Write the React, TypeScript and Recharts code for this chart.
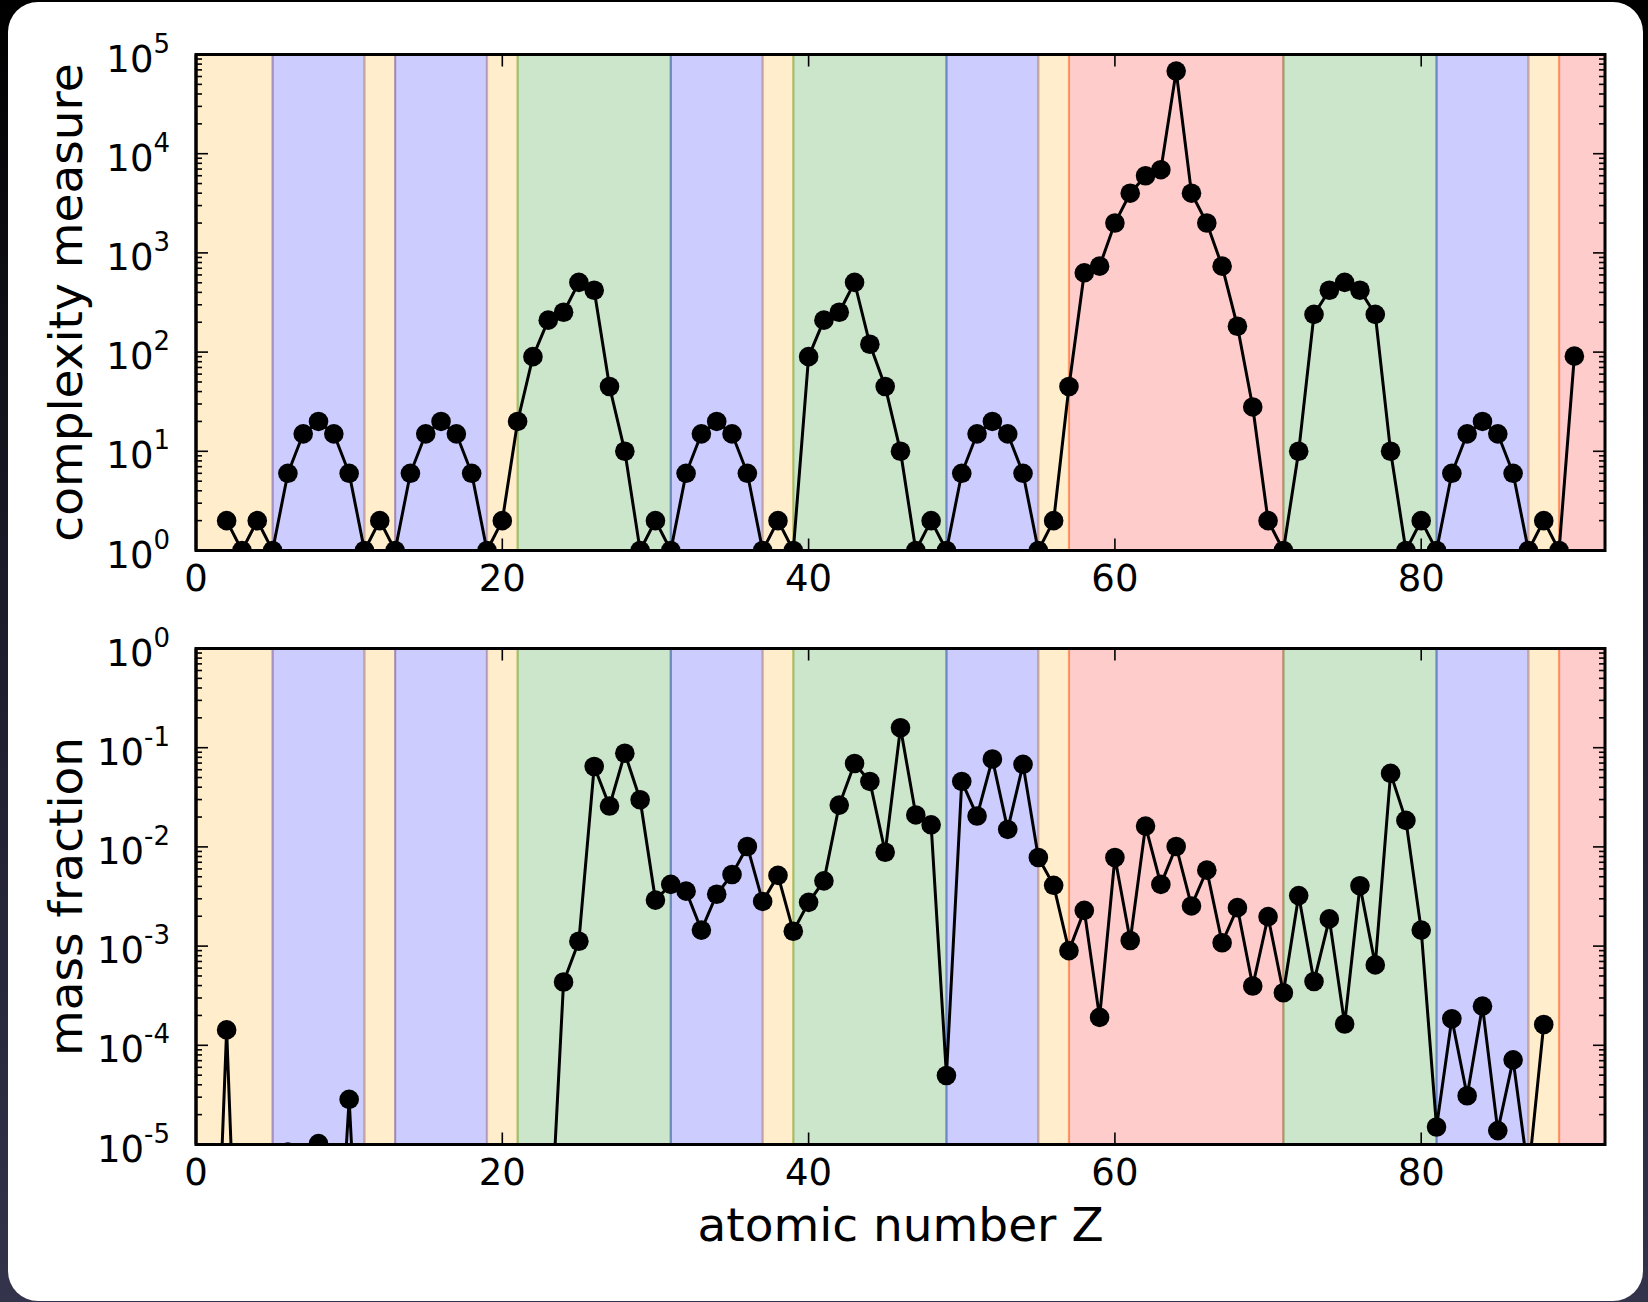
import React from 'react';
import { LineChart, Line, XAxis, YAxis, ReferenceArea } from 'recharts';

// ---------- data ----------
const atomicNumbers = [
  1, 2, 3, 4, 5, 6, 7, 8, 9, 10, 11, 12, 13, 14, 15, 16, 17, 18, 19, 20,
  21, 22, 23, 24, 25, 26, 27, 28, 29, 30, 31, 32, 33, 34, 35, 36, 37, 38, 39, 40,
  41, 42, 43, 44, 45, 46, 47, 48, 49, 50, 51, 52, 53, 54, 55, 56, 57, 58, 59, 60,
  61, 62, 63, 64, 65, 66, 67, 68, 69, 70, 71, 72, 73, 74, 75, 76, 77, 78, 79, 80,
  81, 82, 83, 84, 85, 86, 87, 88, 89, 90, 91, 92,
];

// complexity measure for Z = 2 .. 90
const complexityZ = atomicNumbers.slice(1, 90);
const complexity = [
  2, 1, 2, 1, 6, 15, 20, 15, 6, 1, 2, 1, 6, 15, 20, 15, 6, 1, 2,
  20, 90, 210, 252, 504, 420, 45, 10, 1, 2,
  1, 6, 15, 20, 15, 6, 1, 2,
  1, 90, 210, 252, 504, 120, 45, 10, 1, 2,
  1, 6, 15, 20, 15, 6, 1, 2,
  45, 630, 735, 2000, 4000, 6000, 6900, 68000, 4000, 2000, 735, 182, 28, 2,
  1, 10, 240, 420, 504, 420, 240, 10, 1, 2,
  1, 6, 15, 20, 15, 6, 1, 2,
  1, 91,
];

// mass fraction for Z = 1 .. 88
const massZ = atomicNumbers.slice(0, 88);
const massFraction = [
  1.5e-8, 1.43e-4, 1.2e-8, 3e-9, 4e-9, 8.4e-6, 5e-7, 1.02e-5, 8e-8, 2.85e-5,
  3e-8, 2e-8, 1e-8, 2e-8, 1e-8, 3e-8, 1e-8, 1e-8, 1e-8, 2e-8,
  1e-8, 2e-7, 4.6e-7, 4.35e-4, 1.12e-3, 0.0646, 0.0258, 0.088, 0.0299, 2.91e-3,
  4.19e-3, 3.58e-3, 1.45e-3, 3.33e-3, 5.27e-3, 0.0101, 2.82e-3, 5.16e-3, 1.41e-3, 2.76e-3,
  4.55e-3, 0.0264, 0.0693, 0.0457, 8.83e-3, 0.159, 0.021, 0.0167, 4.96e-5, 0.0457,
  0.0205, 0.0769, 0.015, 0.0679, 7.82e-3, 4.1e-3, 9e-4, 2.29e-3, 1.91e-4, 7.82e-3,
  1.14e-3, 0.0162, 4.19e-3, 0.0101, 2.54e-3, 5.83e-3, 1.08e-3, 2.44e-3, 3.96e-4, 1.98e-3,
  3.39e-4, 3.23e-3, 4.4e-4, 1.88e-3, 1.64e-4, 4.06e-3, 6.46e-4, 0.0551, 0.0185, 1.45e-3,
  1.5e-5, 1.85e-4, 3.1e-5, 2.48e-4, 1.38e-5, 7.13e-5, 5e-6, 1.62e-4,
];

// periodic-table block bands
const bandStart = [0, 5, 11, 13, 19, 21, 31, 37, 39, 49, 55, 57, 71, 81, 87, 89];
const bandEnd = [5, 11, 13, 19, 21, 31, 37, 39, 49, 55, 57, 71, 81, 87, 89, 92];
const bandBlock = ['s', 'p', 's', 'p', 's', 'd', 'p', 's', 'd', 'p', 's', 'f', 'd', 'p', 's', 'f'];
const blockColor: Record<string, string> = { s: '#FFA500', p: '#0000FF', d: '#008000', f: '#FF0000' };

const xTicks = [0, 20, 40, 60, 80];
const topDecades = [1, 10, 100, 1000, 10000];
const bottomDecades = [1e-5, 1e-4, 1e-3, 1e-2, 1e-1];
const multipliers = [1, 2, 3, 4, 5, 6, 7, 8, 9];

const topTicks = [...topDecades.flatMap((d) => multipliers.map((m) => m * d)), 100000];
const bottomTicks = [...bottomDecades.flatMap((d) => multipliers.map((m) => m * d)), 1];

const topRows = complexityZ.map((z, i) => ({ z, v: complexity[i] }));
const bottomRows = massZ.map((z, i) => ({ z, v: massFraction[i] }));

// ---------- layout ----------
const FONT = '"DejaVu Sans", "Liberation Sans", sans-serif';
const CHART_W = 1648;
const AXIS_W = 196;
const RIGHT_M = 43;
const PLOT_W = CHART_W - AXIS_W - RIGHT_M;
const PLOT_H = 496;

const YTick = (props: any) => {
  const { x, y, payload } = props;
  const v = payload.value as number;
  const e = Math.log10(v);
  const major = Math.abs(e - Math.round(e)) < 1e-6;
  const len = major ? 12 : 6;
  return (
    <g>
      <line x1={x} x2={x + len} y1={y} y2={y} stroke="#000" strokeWidth={1.6} />
      <line x1={x + PLOT_W} x2={x + PLOT_W - len} y1={y} y2={y} stroke="#000" strokeWidth={1.6} />
      {major && (
        <text x={x - 26} y={y + 17} textAnchor="end" fontFamily={FONT} fill="#000">
          <tspan fontSize={37}>10</tspan>
          <tspan fontSize={26} dy={-19}>{String(Math.round(e))}</tspan>
        </text>
      )}
    </g>
  );
};

const XTick = (props: any) => {
  const { x, y, payload } = props;
  return (
    <g>
      <line x1={x} x2={x} y1={y} y2={y - 12} stroke="#000" strokeWidth={1.6} />
      <line x1={x} x2={x} y1={y - PLOT_H} y2={y - PLOT_H + 12} stroke="#000" strokeWidth={1.6} />
      <text x={x} y={y + 40.5} textAnchor="middle" fontFamily={FONT} fontSize={37} fill="#000">
        {String(payload.value)}
      </text>
    </g>
  );
};

function Panel(props: {
  rows: { z: number; v: number }[];
  domain: [number, number];
  ticks: number[];
  height: number;
  marginTop: number;
  axisHeight: number;
}) {
  const { rows, domain, ticks, height, marginTop, axisHeight } = props;
  return (
    <LineChart
      width={CHART_W}
      height={height}
      data={rows}
      margin={{ top: marginTop, right: RIGHT_M, bottom: 0, left: 0 }}
    >
      {bandStart.map((s, i) => (
        <ReferenceArea
          key={i}
          x1={s}
          x2={bandEnd[i]}
          fill={blockColor[bandBlock[i]]}
          fillOpacity={0.2}
          stroke={blockColor[bandBlock[i]]}
          strokeOpacity={0.28}
          strokeWidth={2.2}
        />
      ))}
      <XAxis
        dataKey="z"
        type="number"
        domain={[0, 92]}
        allowDataOverflow
        ticks={xTicks}
        interval={0}
        tickSize={0}
        tickMargin={0}
        tickLine={false}
        axisLine={{ stroke: '#000', strokeWidth: 3 }}
        tick={(p: any) => <XTick {...p} />}
        height={axisHeight}
      />
      <YAxis
        type="number"
        scale="log"
        domain={domain}
        allowDataOverflow
        ticks={ticks}
        interval={0}
        tickSize={0}
        tickMargin={0}
        tickLine={false}
        axisLine={{ stroke: '#000', strokeWidth: 3 }}
        tick={(p: any) => <YTick {...p} />}
        width={AXIS_W}
      />
      <ReferenceArea x1={0} x2={92} y1={domain[0]} y2={domain[1]} fill="none" stroke="#000" strokeWidth={3} />
      <Line
        dataKey="v"
        stroke="#000"
        strokeWidth={3}
        dot={{ r: 9.8, fill: '#000', stroke: 'none', strokeWidth: 0 }}
        activeDot={false}
        isAnimationActive={false}
      />
    </LineChart>
  );
}

export default function App() {
  return (
    <div
      style={{
        position: 'absolute',
        left: 0,
        top: 0,
        width: 1648,
        height: 1302,
        overflow: 'hidden',
        background: 'linear-gradient(to bottom, #000000 0%, #1b1b2a 45%, #33334b 100%)',
      }}
    >
      <div
        style={{
          position: 'absolute',
          left: 8,
          top: 2,
          width: 1635,
          height: 1299,
          background: '#ffffff',
          borderRadius: 30,
        }}
      />
      <div style={{ position: 'absolute', left: 0, top: 0 }}>
        <Panel rows={topRows} domain={[1, 100000]} ticks={topTicks} height={600} marginTop={54.5} axisHeight={49.5} />
      </div>
      <div style={{ position: 'absolute', left: 0, top: 600 }}>
        <Panel rows={bottomRows} domain={[1e-5, 1]} ticks={bottomTicks} height={700} marginTop={48.5} axisHeight={155.5} />
      </div>
      <svg
        width={1648}
        height={1302}
        style={{ position: 'absolute', left: 0, top: 0, pointerEvents: 'none' }}
      >
        <text
          x={82}
          y={302.5}
          transform="rotate(-90, 82, 302.5)"
          textAnchor="middle"
          fontFamily={FONT}
          fontSize={47}
          fill="#000"
        >
          complexity measure
        </text>
        <text
          x={82}
          y={896.5}
          transform="rotate(-90, 82, 896.5)"
          textAnchor="middle"
          fontFamily={FONT}
          fontSize={47}
          fill="#000"
        >
          mass fraction
        </text>
        <text x={900.5} y={1241} textAnchor="middle" fontFamily={FONT} fontSize={47} fill="#000">
          atomic number Z
        </text>
      </svg>
    </div>
  );
}
